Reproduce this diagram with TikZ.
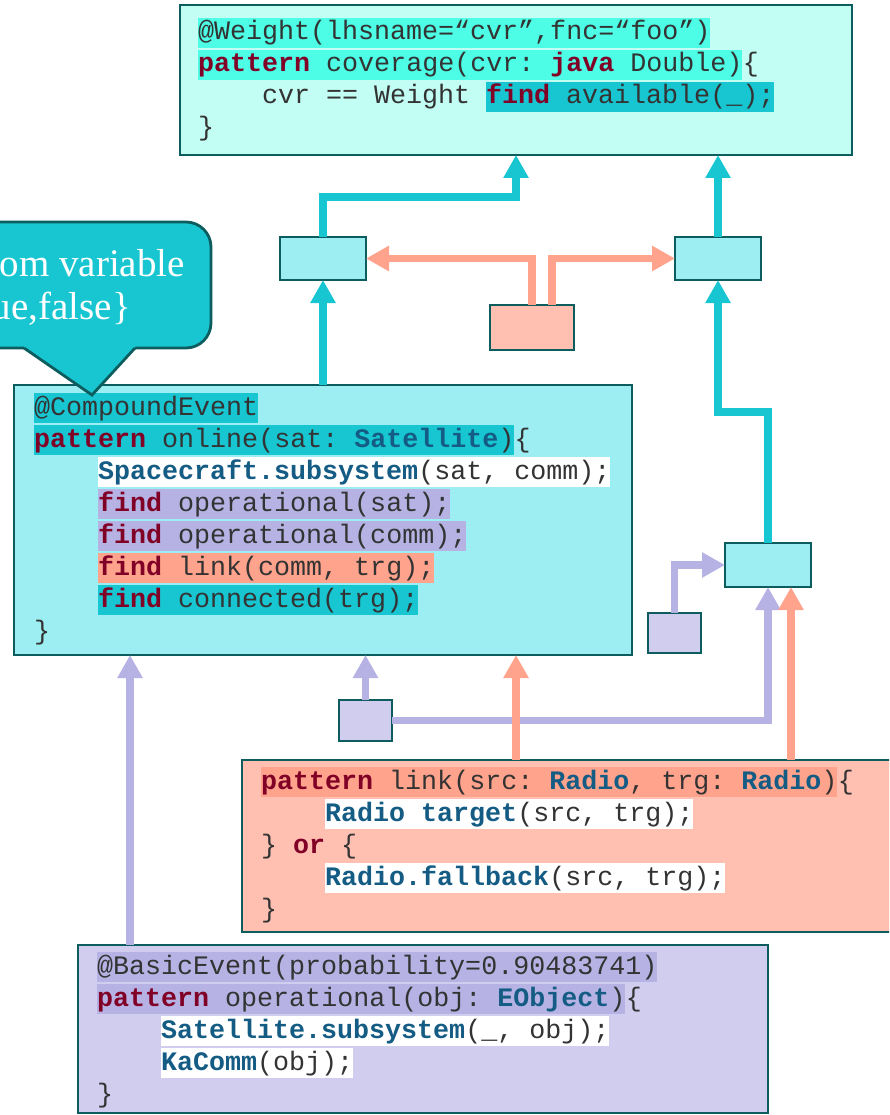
\documentclass[tikz,border=0pt]{standalone}
\usepackage{fontspec}
\setmainfont{Liberation Serif}
\newfontfamily\codefont{Liberation Mono}
\usetikzlibrary{arrows.meta}
\definecolor{bord}{HTML}{0D5C5E}
\definecolor{topfill}{HTML}{C2FEF3}
\definecolor{tophl}{HTML}{4DFDE5}
\definecolor{cyD}{HTML}{18C6D2}
\definecolor{cmpfill}{HTML}{9CEEF3}
\definecolor{lavD}{HTML}{B6B3E4}
\definecolor{lavfill}{HTML}{D0CDEE}
\definecolor{salD}{HTML}{FFA38C}
\definecolor{salfill}{HTML}{FFC0B2}
\definecolor{kwc}{HTML}{800026}
\definecolor{tyc}{HTML}{155C85}
\definecolor{txt}{HTML}{333333}
\newcommand\kw[1]{\textcolor{kwc}{\bfseries #1}}
\newcommand\ty[1]{\textcolor{tyc}{\bfseries #1}}
\tikzset{
  box/.style={draw=bord, line width=2.8pt, inner sep=0pt, outer sep=0pt, anchor=north west},
  code/.style={font={\codefont\fontsize{26.67pt}{32pt}\selectfont\frenchspacing}, text=txt,
    inner xsep=0pt, inner ysep=0pt, minimum height=30.5pt, text height=19pt, text depth=5pt, anchor=west},
  arr/.style={line width=7.5pt, -{Triangle[width=24pt,length=23pt]}, line join=miter},
  calltext/.style={font={\fontsize{39pt}{40pt}\selectfont}, text=white, inner sep=0pt, anchor=base east},
}
\begin{document}
\begin{tikzpicture}[x=1pt,y=-1pt]
\useasboundingbox (0,0) rectangle (889,1115);
\clip (0,0) rectangle (889,1115);

% boxes
\node[box, fill=topfill, minimum width=672pt, minimum height=150pt] (top) at (180,5) {};
\node[box, fill=cmpfill, minimum width=618pt, minimum height=270pt] (cmp) at (14,385) {};
\node[box, fill=salfill, minimum width=660pt, minimum height=172pt] (link) at (242,760) {};
\node[box, fill=lavfill, minimum width=690pt, minimum height=168pt] (basic) at (78,945) {};
\node[box, fill=cmpfill, minimum width=86pt, minimum height=43pt] (lbox) at (280,237) {};
\node[box, fill=cmpfill, minimum width=86pt, minimum height=43pt] (rbox) at (675,237) {};
\node[box, fill=salfill, minimum width=84pt, minimum height=45pt] (sbox) at (490,305) {};
\node[box, fill=cmpfill, minimum width=86pt, minimum height=44pt] (lrbox) at (725,543) {};
\node[box, fill=lavfill, minimum width=53pt, minimum height=40pt] (lav1) at (648,613) {};
\node[box, fill=lavfill, minimum width=53pt, minimum height=41pt] (lav2) at (339,700) {};

% top box code
\node[code, fill=tophl] (w1) at (198,33) {@Weight(lhsname=“cvr”,fnc=“foo”)};
\node[code, fill=tophl] (w2) at (198,65) {\kw{pattern} coverage(cvr: \kw{java} Double)};
\node[code] (w2b) at (w2.east) {\{};
\node[code] (w3a) at (262,97) {cvr == Weight};
\node[code, fill=cyD] (w3b) at (486,97) {\kw{find} available(\_);};
\node[code] (w4) at (198,129) {\}};

% compound box code
\node[code, fill=cyD] (c1) at (34,408) {@CompoundEvent};
\node[code, fill=cyD] (c2) at (34,440) {\kw{pattern} online(sat: \ty{Satellite})};
\node[code] (c2b) at (c2.east) {\{};
\node[code, fill=white] (c3) at (98,472) {\ty{Spacecraft.subsystem}(sat, comm);};
\node[code, fill=lavD] (c4) at (98,504) {\kw{find} operational(sat);};
\node[code, fill=lavD] (c5) at (98,536) {\kw{find} operational(comm);};
\node[code, fill=salD] (c6) at (98,568) {\kw{find} link(comm, trg);};
\node[code, fill=cyD] (c7) at (98,600) {\kw{find} connected(trg);};
\node[code] (c8) at (34,632) {\}};

% link box code
\node[code, fill=salD] (l1) at (261,782) {\kw{pattern} link(src: \ty{Radio}, trg: \ty{Radio})};
\node[code] (l1b) at (l1.east) {\{};
\node[code, fill=white] (l2) at (325,814) {\ty{Radio target}(src, trg);};
\node[code] (l3) at (261,846) {\} \kw{or} \{};
\node[code, fill=white] (l4) at (325,878) {\ty{Radio.fallback}(src, trg);};
\node[code] (l5) at (261,910) {\}};

% basic box code
\node[code, fill=lavD] (b1) at (97,967) {@BasicEvent(probability=0.90483741)};
\node[code, fill=lavD] (b2) at (97,999) {\kw{pattern} operational(obj: \ty{EObject})};
\node[code] (b2b) at (b2.east) {\{};
\node[code, fill=white] (b3) at (161,1031) {\ty{Satellite.subsystem}(\_, obj);};
\node[code, fill=white] (b4) at (161,1063) {\ty{KaComm}(obj);};
\node[code] (b5) at (97,1095) {\}};

% connectors
\coordinate (k1) at (516,197);
\coordinate (k2) at (718,412);
\coordinate (xa) at (516,0);
\coordinate (xb) at (791,0);
\coordinate (xc) at (130,0);

\draw[arr, cyD] (lbox.south |- cmp.north) -- (lbox.south);
\draw[arr, cyD] (lbox.north) |- (k1) -- (k1 |- top.south);
\draw[arr, cyD] (rbox.north) -- (rbox.north |- top.south);
\draw[arr, cyD] (lrbox.north) |- (k2) -- (rbox.south);
\draw[arr, salD] (sbox.north) |- (lbox.east);
\draw[arr, salD] ([xshift=20pt]sbox.north) |- (rbox.west);
\draw[arr, lavD] (lav1.north) |- (lrbox.west);
\draw[arr, lavD] (lav2.east) -| (lrbox.south);
\draw[arr, lavD] (lav2.north) -- (lav2.north |- cmp.south);
\draw[arr, lavD] (basic.north -| xc) -- (cmp.south -| xc);
\draw[arr, salD] (link.north -| xa) -- (cmp.south -| xa);
\draw[arr, salD] (link.north -| xb) -- (lrbox.south -| xb);

% callout
\node[draw=bord, line width=2.8pt, fill=cyD, rounded corners=25pt, minimum width=260pt,
  minimum height=126pt, anchor=north east, inner sep=0pt, outer sep=0pt] (call) at (211,222) {};
\fill[cyD] (24,348) -- (92,395) -- (135,348) -- (135,343) -- (24,343) -- cycle;
\draw[bord, line width=2.8pt, line join=miter] (24,348) -- (92,395) -- (135,348);
\node[calltext] (ct1) at (185,276) {om variable};
\node[calltext] (ct2) at (131,319) {ue,false\}};
\end{tikzpicture}
\end{document}
